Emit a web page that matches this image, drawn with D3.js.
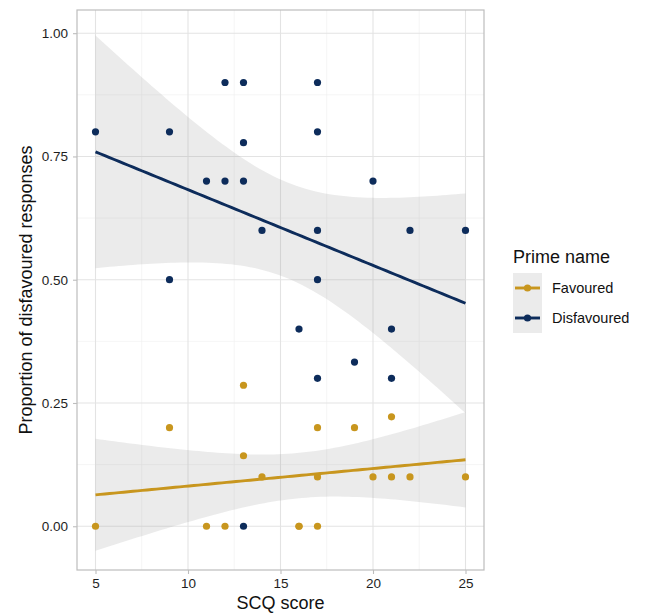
<!DOCTYPE html>
<html>
<head>
<meta charset="utf-8">
<script src="https://cdn.jsdelivr.net/npm/d3@7"></script>
<style>
  html, body { margin: 0; padding: 0; background: #fff; }
  svg { display: block; font-family: "Liberation Sans", Arial, Helvetica, sans-serif; }
</style>
</head>
<body>
<div id="chart"></div>
<script>
// SCQ score vs proportion of disfavoured responses, by prime
const primeNames = ["Favoured", "Disfavoured"];
const primeColors = ["#c8961e", "#0d2c5b"];

const scqFavoured  = [13, 9, 17, 19, 21, 13, 14, 17, 20, 21, 22, 25, 5, 11, 12, 16, 16, 17];
const propFavoured = [0.286, 0.2, 0.2, 0.2, 0.222, 0.143, 0.1, 0.1, 0.1, 0.1, 0.1, 0.1, 0, 0, 0, 0, 0, 0];

const scqDisfavoured  = [5, 9, 12, 13, 17, 17, 13, 11, 12, 13, 20, 14, 17, 22, 25, 9, 17, 16, 21, 19, 17, 21, 13];
const propDisfavoured = [0.8, 0.8, 0.9, 0.9, 0.9, 0.8, 0.778, 0.7, 0.7, 0.7, 0.7, 0.6, 0.6, 0.6, 0.6, 0.5, 0.5, 0.4, 0.4, 0.333, 0.3, 0.3, 0];

const xTicks = [5, 10, 15, 20, 25];
const xMinor = [7.5, 12.5, 17.5, 22.5];
const yTicks = [0, 0.25, 0.5, 0.75, 1];
const yMinor = [0.125, 0.375, 0.625, 0.875];

const xTitle = "SCQ score";
const yTitle = "Proportion of disfavoured responses";
const legendTitle = "Prime name";

const width = 646, height = 615;
const panel = { left: 77, top: 10, right: 484, bottom: 570 };

const svg = d3.select("#chart").append("svg")
    .attr("width", width)
    .attr("height", height);

const x = d3.scaleLinear().domain([4, 26]).range([panel.left, panel.right]);
const y = d3.scaleLinear().domain([-0.0887, 1.047]).range([panel.bottom, panel.top]);

// grid
const grid = svg.append("g");
grid.selectAll(".xmin").data(xMinor).enter().append("line")
    .attr("x1", d => x(d)).attr("x2", d => x(d))
    .attr("y1", panel.top).attr("y2", panel.bottom)
    .attr("stroke", "#efefef").attr("stroke-width", 0.6);
grid.selectAll(".ymin").data(yMinor).enter().append("line")
    .attr("y1", d => y(d)).attr("y2", d => y(d))
    .attr("x1", panel.left).attr("x2", panel.right)
    .attr("stroke", "#efefef").attr("stroke-width", 0.6);
grid.selectAll(".xmaj").data(xTicks).enter().append("line")
    .attr("x1", d => x(d)).attr("x2", d => x(d))
    .attr("y1", panel.top).attr("y2", panel.bottom)
    .attr("stroke", "#e3e3e3").attr("stroke-width", 1.1);
grid.selectAll(".ymaj").data(yTicks).enter().append("line")
    .attr("y1", d => y(d)).attr("y2", d => y(d))
    .attr("x1", panel.left).attr("x2", panel.right)
    .attr("stroke", "#e3e3e3").attr("stroke-width", 1.1);

// t quantile (Cornish-Fisher expansion)
function tQuantile975(df) {
    const z = 1.959964;
    const z3 = z ** 3, z5 = z ** 5, z7 = z ** 7;
    return z + (z3 + z) / (4 * df)
        + (5 * z5 + 16 * z3 + 3 * z) / (96 * df * df)
        + (3 * z7 + 19 * z5 + 17 * z3 - 15 * z) / (384 * df ** 3);
}

// linear fit with 95% confidence band, like geom_smooth(method = "lm")
function lmBand(xs, ys) {
    const n = xs.length;
    const mx = d3.mean(xs), my = d3.mean(ys);
    let sxx = 0, sxy = 0;
    xs.forEach((v, i) => { sxx += (v - mx) ** 2; sxy += (v - mx) * (ys[i] - my); });
    const b = sxy / sxx, a = my - b * mx;
    let rss = 0;
    xs.forEach((v, i) => { rss += (ys[i] - a - b * v) ** 2; });
    const s = Math.sqrt(rss / (n - 2));
    const t = tQuantile975(n - 2);
    const [lo, hi] = d3.extent(xs);
    return d3.range(80).map(k => {
        const xv = lo + (hi - lo) * k / 79;
        const fit = a + b * xv;
        const se = s * Math.sqrt(1 / n + (xv - mx) ** 2 / sxx);
        return { x: xv, fit: fit, lo: fit - t * se, hi: fit + t * se };
    });
}

const groups = [
    { name: primeNames[0], color: primeColors[0], xs: scqFavoured, ys: propFavoured },
    { name: primeNames[1], color: primeColors[1], xs: scqDisfavoured, ys: propDisfavoured }
];

const plot = svg.append("g");

const area = d3.area().x(d => x(d.x)).y0(d => y(d.lo)).y1(d => y(d.hi));
const line = d3.line().x(d => x(d.x)).y(d => y(d.fit));

groups.forEach(g => {
    g.band = lmBand(g.xs, g.ys);
    plot.append("path")
        .datum(g.band)
        .attr("d", area)
        .attr("fill", "#999999")
        .attr("fill-opacity", 0.2);
});

groups.forEach(g => {
    plot.append("g").selectAll("circle")
        .data(g.xs.map((v, i) => [v, g.ys[i]]))
        .enter().append("circle")
        .attr("cx", d => x(d[0]))
        .attr("cy", d => y(d[1]))
        .attr("r", 3.6)
        .attr("fill", g.color);
});

groups.forEach(g => {
    plot.append("path")
        .datum(g.band)
        .attr("d", line)
        .attr("fill", "none")
        .attr("stroke", g.color)
        .attr("stroke-width", 2.9);
});

// panel border
svg.append("rect")
    .attr("x", panel.left).attr("y", panel.top)
    .attr("width", panel.right - panel.left)
    .attr("height", panel.bottom - panel.top)
    .attr("fill", "none")
    .attr("stroke", "#bdbdbd")
    .attr("stroke-width", 1.2);

// axes
const xAxis = svg.append("g")
    .attr("transform", `translate(0,${panel.bottom})`)
    .call(d3.axisBottom(x).tickValues(xTicks).tickSize(4).tickPadding(4).tickFormat(d3.format("d")));
const yAxis = svg.append("g")
    .attr("transform", `translate(${panel.left},0)`)
    .call(d3.axisLeft(y).tickValues(yTicks).tickSize(4).tickPadding(5).tickFormat(d3.format(".2f")));

[xAxis, yAxis].forEach(ax => {
    ax.select(".domain").remove();
    ax.selectAll(".tick line").attr("stroke", "#bdbdbd").attr("stroke-width", 1.1);
    ax.selectAll(".tick text")
        .attr("fill", "#1e1e1e")
        .style("font-size", "13.5px")
        .style("font-family", "'Liberation Sans', Arial, sans-serif");
});

svg.append("text")
    .attr("x", (panel.left + panel.right) / 2)
    .attr("y", 609)
    .attr("text-anchor", "middle")
    .attr("fill", "#111")
    .style("font-size", "18px")
    .text(xTitle);

svg.append("text")
    .attr("transform", `translate(32,${(panel.top + panel.bottom) / 2}) rotate(-90)`)
    .attr("text-anchor", "middle")
    .attr("fill", "#111")
    .style("font-size", "18px")
    .text(yTitle);

// legend
const legend = svg.append("g");
legend.append("text")
    .attr("x", 513).attr("y", 263)
    .attr("fill", "#111")
    .style("font-size", "18px")
    .text(legendTitle);

const keyY = d3.scaleBand().domain(primeNames).range([273, 333]);

legend.selectAll(".key").data(groups).enter().append("rect")
    .attr("x", 513).attr("y", d => keyY(d.name))
    .attr("width", 29).attr("height", keyY.bandwidth())
    .attr("fill", "#ebebeb");

const item = legend.selectAll(".item").data(groups).enter().append("g")
    .attr("transform", d => `translate(0,${keyY(d.name) + keyY.bandwidth() / 2})`);
item.append("line")
    .attr("x1", 515).attr("x2", 540)
    .attr("stroke", d => d.color).attr("stroke-width", 2.9);
item.append("circle")
    .attr("cx", 527.5).attr("r", 3.6)
    .attr("fill", d => d.color);
item.append("text")
    .attr("x", 552).attr("dy", "0.36em")
    .attr("fill", "#111")
    .style("font-size", "14.5px")
    .text(d => d.name);
</script>
</body>
</html>
